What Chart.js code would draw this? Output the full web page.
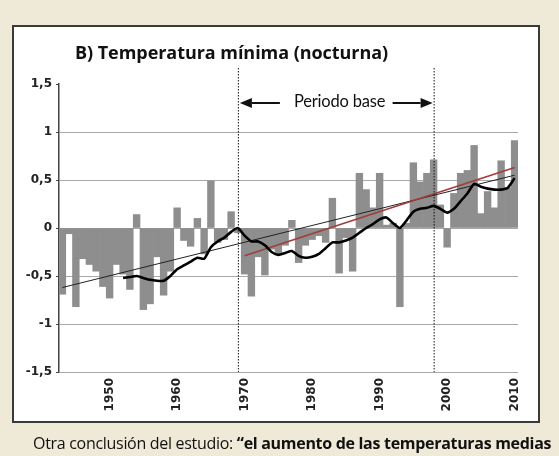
<!DOCTYPE html>
<html lang="es">
<head>
<meta charset="utf-8">
<title>B) Temperatura mínima (nocturna)</title>
<script src="https://cdn.jsdelivr.net/npm/chart.js@4.4.1/dist/chart.umd.min.js"></script>
<style>
    html, body { margin: 0; padding: 0; }
    body {
        width: 559px;
        height: 456px;
        position: relative;
        overflow: hidden;
        background: #efe9d8;
        font-family: Lato, "Open Sans", sans-serif;
    }
    #frame {
        position: absolute;
        left: 12px;
        top: 25px;
        width: 524px;
        height: 394px;
        background: #fff;
        border: 2px solid #3a3a3a;
    }
    #chartBox {
        position: absolute;
        left: 0;
        top: 0;
        width: 559px;
        height: 456px;
    }
    #title {
        position: absolute;
        left: 75px;
        top: 40px;
        font-family: "Open Sans", sans-serif;
        font-weight: bold;
        font-size: 18px;
        letter-spacing: -0.05px;
        color: #111;
        white-space: nowrap;
    }
    #periodo {
        position: absolute;
        left: 294px;
        top: 91px;
        font-size: 16.5px;
        letter-spacing: -0.2px;
        color: #111;
        white-space: nowrap;
    }
    #caption {
        position: absolute;
        left: 33px;
        top: 432px;
        font-family: "Open Sans", sans-serif;
        font-size: 16px;
        letter-spacing: -0.3px;
        color: #111;
        white-space: nowrap;
    }
    #caption b { font-weight: bold; }
</style>
</head>
<body>
<div id="frame"></div>
<div id="chartBox"><canvas id="tempChart"></canvas></div>
<div id="title">B) Temperatura mínima (nocturna)</div>
<div id="periodo">Periodo base</div>
<div id="caption">Otra conclusión del estudio: <b>“el aumento de las temperaturas medias</b></div>

<script>
// Years on the category axis
const firstYear = 1943;
const lastYear = 2010;
const years = [];
for (let y = firstYear; y <= lastYear; y++) years.push(y);

// Yearly anomaly of the minimum temperature (bars), 1943-2010
const anomalies = [
    -0.69, -0.06, -0.82, -0.32, -0.38, -0.45, -0.61, -0.73, -0.38, -0.48,
    -0.64,  0.14, -0.85, -0.79, -0.30, -0.70, -0.45,  0.21, -0.13, -0.19,
     0.10, -0.27,  0.49, -0.15, -0.12,  0.17, -0.05, -0.48, -0.71, -0.30,
    -0.49, -0.22, -0.28, -0.18,  0.08, -0.36, -0.18, -0.12, -0.08, -0.15,
     0.31, -0.47, -0.10, -0.45,  0.57,  0.40,  0.21,  0.57,  0.03,  0.05,
    -0.82,  0.05,  0.68,  0.48,  0.57,  0.71,  0.24, -0.20,  0.36,  0.57,
     0.60,  0.86,  0.15,  0.38,  0.21,  0.70,  0.42,  0.91
];

// Moving average (thick black line), starts in 1952
const movingAvgStart = 1952;
const movingAvg = [
    -0.52, -0.51, -0.50, -0.52, -0.54, -0.55, -0.55, -0.50, -0.43, -0.39,
    -0.35, -0.31, -0.32, -0.20, -0.14, -0.10, -0.04,  0.00, -0.08, -0.14,
    -0.14, -0.18, -0.25, -0.28, -0.26, -0.24, -0.29, -0.31, -0.30, -0.27,
    -0.21, -0.15, -0.15, -0.13, -0.10, -0.05,  0.00,  0.04,  0.09,  0.11,
     0.05,  0.00,  0.08,  0.17,  0.20,  0.21,  0.23,  0.20,  0.16,  0.20,
     0.28,  0.36,  0.46,  0.43,  0.41,  0.40,  0.40,  0.42,  0.52
];

// Linear trends (end points only)
const trendAllYears = [1943, 2010];
const trendAllValues = [-0.62, 0.55];
const trendBaseYears = [1970, 2010];
const trendBaseValues = [-0.29, 0.63];

// Base period markers
const basePeriod = [1969, 1998];

// Y axis ticks
const yMin = -1.5;
const yMax = 1.5;
const yStep = 0.5;

// Put a short series onto the full year axis
function spreadOnYears(startYear, values) {
    return years.map(y => {
        const i = y - startYear;
        return (i >= 0 && i < values.length) ? values[i] : null;
    });
}

function pointsOnYears(pointYears, pointValues) {
    return years.map(y => {
        const i = pointYears.indexOf(y);
        return i >= 0 ? pointValues[i] : null;
    });
}

// Dotted vertical lines and arrows of the base period
const basePeriodPlugin = {
    id: 'basePeriod',
    afterDatasetsDraw(chart) {
        const ctx = chart.ctx;
        const xScale = chart.scales.x;
        const area = chart.chartArea;
        const xs = basePeriod.map(y => xScale.getPixelForValue(years.indexOf(y)));

        ctx.save();
        ctx.strokeStyle = '#111';
        ctx.lineWidth = 1;
        ctx.setLineDash([1.5, 1.5]);
        xs.forEach(x => {
            ctx.beginPath();
            ctx.moveTo(x + 0.5, area.top - 16);
            ctx.lineTo(x + 0.5, area.bottom);
            ctx.stroke();
        });
        ctx.setLineDash([]);

        // arrows either side of the "Periodo base" label
        const arrowY = area.top + 19;
        drawArrow(ctx, xs[0] + 42, xs[0] + 2, arrowY);
        drawArrow(ctx, xs[1] - 41, xs[1] - 1, arrowY);
        ctx.restore();
    }
};

function drawArrow(ctx, fromX, toX, y) {
    const dir = toX > fromX ? 1 : -1;
    const headLen = 12;
    ctx.fillStyle = '#111';
    ctx.strokeStyle = '#111';
    ctx.lineWidth = 2;
    ctx.beginPath();
    ctx.moveTo(fromX, y);
    ctx.lineTo(toX - dir * headLen, y);
    ctx.stroke();
    ctx.beginPath();
    ctx.moveTo(toX, y);
    ctx.lineTo(toX - dir * headLen, y - 5);
    ctx.lineTo(toX - dir * headLen, y + 5);
    ctx.closePath();
    ctx.fill();
}

const tempChart = new Chart(document.getElementById('tempChart'), {
    type: 'bar',
    data: {
        labels: years.map(String),
        datasets: [
            {
                type: 'line',
                label: 'Media móvil',
                data: spreadOnYears(movingAvgStart, movingAvg),
                borderColor: '#000',
                borderWidth: 2.6,
                pointRadius: 0,
                tension: 0.2,
                order: 0
            },
            {
                type: 'line',
                label: 'Tendencia 1970-2010',
                data: pointsOnYears(trendBaseYears, trendBaseValues),
                borderColor: '#a33b3b',
                borderWidth: 1.6,
                pointRadius: 0,
                spanGaps: true,
                order: 1
            },
            {
                type: 'line',
                label: 'Tendencia',
                data: pointsOnYears(trendAllYears, trendAllValues),
                borderColor: '#222',
                borderWidth: 1,
                pointRadius: 0,
                spanGaps: true,
                order: 2
            },
            {
                label: 'Anomalía',
                data: anomalies,
                backgroundColor: '#8e8e8e',
                borderWidth: 0,
                barPercentage: 1,
                categoryPercentage: 1,
                order: 3
            }
        ]
    },
    options: {
        responsive: true,
        maintainAspectRatio: false,
        animation: false,
        layout: {
            padding: { top: 84, right: 41, bottom: 0, left: 0 }
        },
        plugins: {
            legend: { display: false },
            tooltip: { enabled: false }
        },
        scales: {
            x: {
                grid: { display: false, drawTicks: false },
                border: { display: false },
                ticks: {
                    autoSkip: false,
                    minRotation: 90,
                    maxRotation: 90,
                    padding: 6,
                    color: '#222',
                    font: { family: 'DejaVu Sans', weight: 'bold', size: 12 },
                    callback: (value, index) => (years[index] % 10 === 0 ? String(years[index]) : '')
                },
                afterFit: (scale) => { scale.height = 84; }
            },
            y: {
                min: yMin,
                max: yMax,
                border: { display: true, color: '#444', width: 1.5 },
                grid: {
                    color: (ctx) => (ctx.tick && ctx.tick.value === yMax ? 'rgba(0,0,0,0)' : '#a8a8a8'),
                    lineWidth: 1,
                    tickColor: '#444',
                    tickLength: 3
                },
                ticks: {
                    stepSize: yStep,
                    padding: 4,
                    color: '#222',
                    font: { family: 'DejaVu Sans', weight: 'bold', size: 12 },
                    callback: (value) => String(value).replace('.', ',')
                },
                afterFit: (scale) => { scale.width = 59; }
            }
        }
    },
    plugins: [basePeriodPlugin]
});
</script>
</body>
</html>
